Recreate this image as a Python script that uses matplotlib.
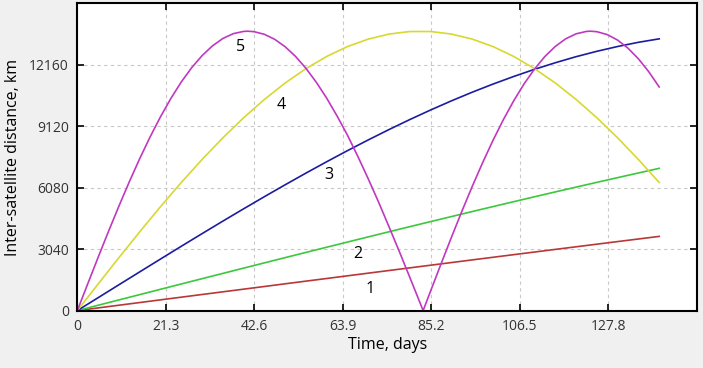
import matplotlib
matplotlib.use("Agg")
import matplotlib.pyplot as plt

# time grid (days) for curves 1-4
t = [0, 5, 10, 15, 20, 25, 30, 35, 40, 45, 50, 55, 60, 65, 70,
     75, 80, 85, 90, 95, 100, 105, 110, 115, 120, 125, 130, 135, 140]

d1 = [0, 133, 265, 398, 531, 663, 796, 928, 1060, 1192, 1325, 1457, 1588, 1720, 1852,
      1983, 2114, 2245, 2376, 2507, 2637, 2767, 2897, 3027, 3156, 3285, 3414, 3542, 3670]
d2 = [0, 264, 527, 790, 1053, 1316, 1578, 1839, 2100, 2360, 2620, 2878, 3135, 3391, 3646,
      3900, 4152, 4402, 4651, 4899, 5144, 5388, 5630, 5870, 6108, 6344, 6577, 6808, 7037]
d3 = [0, 638, 1277, 1914, 2549, 3180, 3805, 4424, 5034, 5634, 6223, 6801, 7364, 7912, 8443,
      8956, 9450, 9923, 10374, 10802, 11204, 11581, 11935, 12260, 12560, 12826, 13064, 13271, 13443]
d4 = [0, 1314, 2616, 3893, 5137, 6334, 7471, 8543, 9536, 10442, 11258, 11968, 12572, 13061, 13429,
      13679, 13805, 13805, 13679, 13430, 13061, 12571, 11968, 11259, 10444, 9537, 8546, 7473, 6336]

# curve 5 has its own, denser grid (sharp minimum near 83.2 days)
t5 = [0, 2.5, 5, 7.5, 10, 12.5, 15, 17.5, 20, 22.5, 25, 27.5, 30, 32.5, 35, 37.5, 40, 41,
      42.5, 45, 47.5, 50, 52.5, 55, 57.5, 60, 62.5, 65, 67.5, 70, 72.5, 75, 77.5, 80, 81.5, 83.2,
      85, 87.5, 90, 92.5, 95, 97.5, 100, 102.5, 105, 107.5, 110, 112.5, 115, 117.5, 120, 122.5,
      123.5, 125, 127.5, 130, 132.5, 135, 137.5, 140]
d5 = [0, 1322, 2632, 3917, 5166, 6369, 7513, 8587, 9583, 10493, 11305, 12013, 12609, 13093,
      13458, 13698, 13810, 13820,
      13798, 13667, 13417, 13052, 12573, 11985, 11294, 10506, 9625, 8675, 7623, 6515, 5358,
      4142, 2908, 1642, 874, 0,
      969, 2305, 3621, 4900, 6135, 7310, 8416, 9442, 10380, 11217, 11949, 12570, 13067, 13444,
      13691, 13810, 13820, 13796, 13652, 13380, 12978, 12454, 11813, 11060]

curve_labels = ["1", "2", "3", "4", "5"]
label_x = [70.5, 67.6, 60.6, 49.0, 39.2]
label_y = [1070, 2797, 6698, 10153, 13015]

xticks = [0, 21.3, 42.6, 63.9, 85.2, 106.5, 127.8]
yticks = [0, 3040, 6080, 9120, 12160]

colors = ["#b83838", "#3cc83c", "#1c1ca0", "#d8d830", "#c038c0"]

plt.rcParams["font.family"] = ["Open Sans", "DejaVu Sans"]

fig = plt.figure(figsize=(7.03, 3.68), dpi=100, facecolor="#f0f0f0")
ax = fig.add_axes([0.110, 0.156, 0.8815, 0.835])
ax.set_facecolor("white")

series = [(t, d1), (t, d2), (t, d3), (t, d4), (t5, d5)]
for (x, y), c in zip(series, colors):
    ax.plot(x, y, color=c, lw=1.2)

for lab, x, y in zip(curve_labels, label_x, label_y):
    ax.text(x, y, lab, fontsize=11.5, ha="center", va="center", color="black")

ax.set_xlim(0, 149.1)
ax.set_ylim(0, 15200)
ax.set_xticks(xticks)
ax.set_xticklabels([("%g" % v) for v in xticks])
ax.set_yticks(yticks)
ax.grid(True, color="#c8c8c8", linestyle=(0, (3, 3)), lw=0.8)
ax.tick_params(direction="in", top=True, right=True, length=5, width=1.2,
               labelsize=10, colors="black", labelcolor="#333333", pad=6)
for s in ax.spines.values():
    s.set_linewidth(1.5)
    s.set_color("black")

ax.set_xlabel("Time, days", fontsize=11.5, labelpad=2)
ax.set_ylabel("Inter-satellite distance, km", fontsize=11.5, labelpad=6)

fig.savefig("out.png", dpi=100, facecolor=fig.get_facecolor())
